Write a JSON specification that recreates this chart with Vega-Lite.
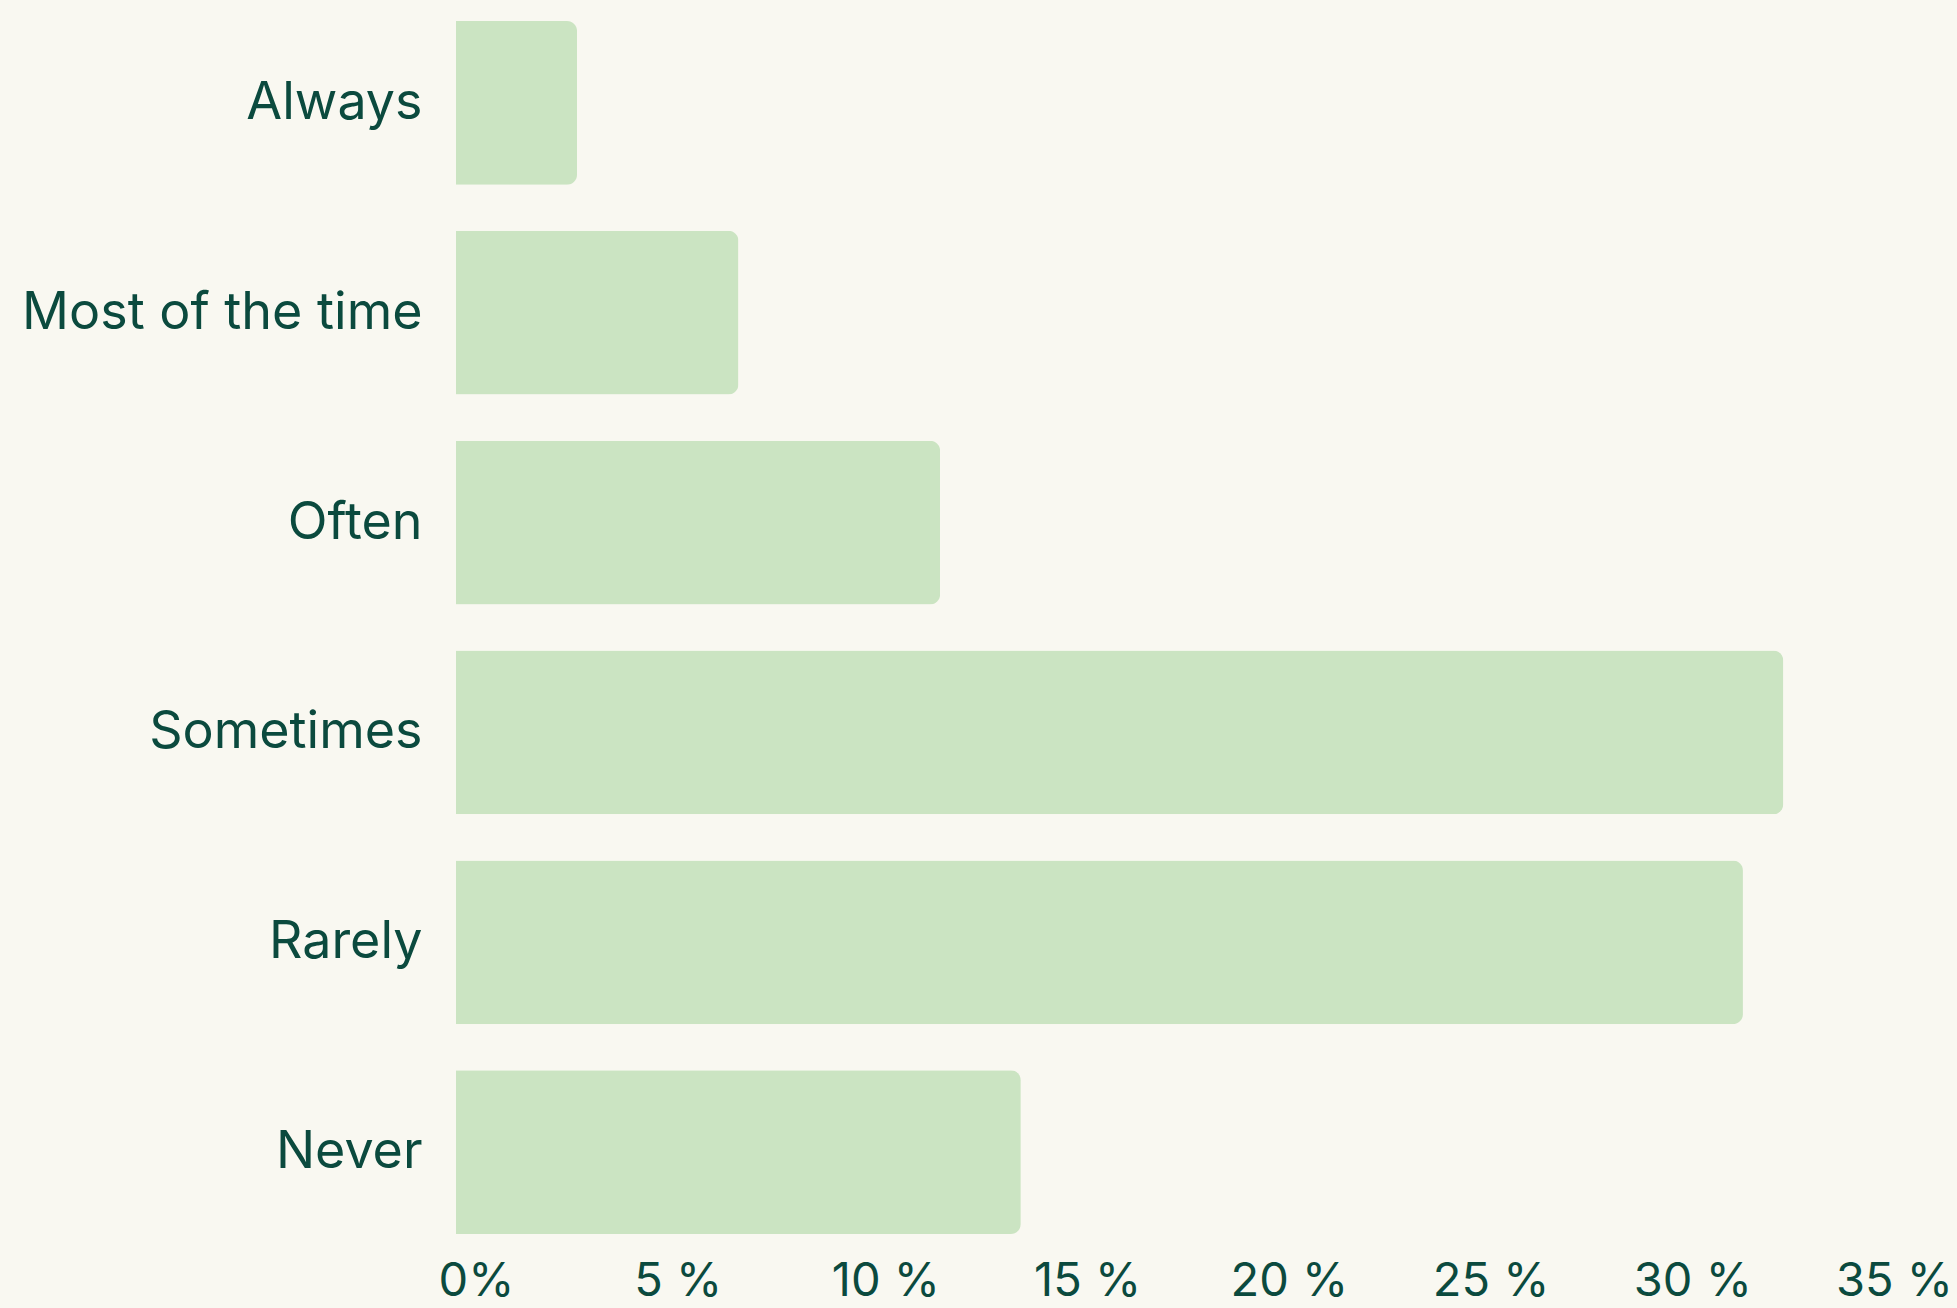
{
  "$schema": "https://vega.github.io/schema/vega-lite/v6.json",
  "autosize": "none",
  "width": 1412,
  "height": 1213,
  "padding": {"left": 456, "top": 21, "right": 89, "bottom": 74},
  "background": "#f9f8f1",
  "data": {
    "values": [
      {"answer": "Always", "share": 3.0},
      {"answer": "Most of the time", "share": 7.0},
      {"answer": "Often", "share": 12.0},
      {"answer": "Sometimes", "share": 32.9},
      {"answer": "Rarely", "share": 31.9},
      {"answer": "Never", "share": 14.0}
    ]
  },
  "mark": {"type": "bar", "color": "#cbe4c2", "cornerRadiusEnd": 10},
  "encoding": {
    "y": {
      "field": "answer",
      "type": "nominal",
      "sort": null,
      "scale": {"paddingInner": 0.22, "paddingOuter": 0},
      "axis": {
        "title": null,
        "domain": false,
        "ticks": false,
        "labelFont": "Inter",
        "labelFontSize": 52,
        "labelColor": "#0b4a3e",
        "labelPadding": 34,
        "labelLimit": 500
      }
    },
    "x": {
      "field": "share",
      "type": "quantitative",
      "scale": {"domain": [0, 35], "nice": false},
      "axis": {
        "title": null,
        "domain": false,
        "ticks": false,
        "grid": false,
        "values": [0, 5, 10, 15, 20, 25, 30, 35],
        "labelExpr": "datum.value == 0 ? '0%' : datum.value + ' %'",
        "labelFont": "Inter",
        "labelFontSize": 47,
        "labelColor": "#0b4a3e",
        "labelPadding": 24,
        "labelAlign": "center",
        "labelFlush": false,
        "labelOverlap": false,
        "labelOffset": {"condition": {"test": "datum.value < 10", "value": 20}, "value": 26}
      }
    }
  },
  "config": {"view": {"stroke": null}}
}
